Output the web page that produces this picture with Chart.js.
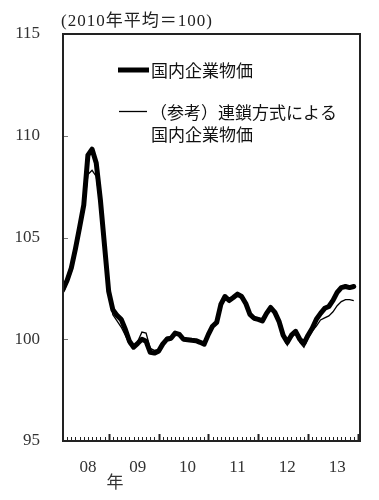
<!DOCTYPE html>
<html><head><meta charset="utf-8">
<script src="https://cdn.jsdelivr.net/npm/chart.js@4"></script>
<style>html,body{margin:0;padding:0;background:#fff}#wrap{width:379px;height:500px;position:relative}</style>
</head><body><div id="wrap"><canvas id="c"></canvas></div>
<script>
const months = [
 '2008/01','2008/02','2008/03','2008/04','2008/05','2008/06','2008/07','2008/08','2008/09','2008/10','2008/11','2008/12',
 '2009/01','2009/02','2009/03','2009/04','2009/05','2009/06','2009/07','2009/08','2009/09','2009/10','2009/11','2009/12',
 '2010/01','2010/02','2010/03','2010/04','2010/05','2010/06','2010/07','2010/08','2010/09','2010/10','2010/11','2010/12',
 '2011/01','2011/02','2011/03','2011/04','2011/05','2011/06','2011/07','2011/08','2011/09','2011/10','2011/11','2011/12',
 '2012/01','2012/02','2012/03','2012/04','2012/05','2012/06','2012/07','2012/08','2012/09','2012/10','2012/11','2012/12',
 '2013/01','2013/02','2013/03','2013/04','2013/05','2013/06','2013/07','2013/08','2013/09','2013/10','2013/11'];
const domesticCGPI = [
 102.45,102.9,103.5,104.45,105.5,106.6,109.05,109.34,108.66,106.85,104.6,102.35,
 101.45,101.17,100.98,100.49,99.9,99.61,99.8,100.0,99.9,99.36,99.32,99.41,
 99.76,100.0,100.05,100.3,100.24,100.0,99.98,99.95,99.93,99.85,99.76,100.24,
 100.64,100.83,101.71,102.1,101.9,102.05,102.22,102.1,101.76,101.22,101.03,100.98,
 100.9,101.27,101.56,101.32,100.88,100.2,99.85,100.2,100.39,100.0,99.8,100.2,
 100.54,100.98,101.27,101.52,101.61,101.91,102.3,102.54,102.59,102.54,102.59];
const chainLinkedCGPI = [
 102.25,102.75,103.3,104.2,105.3,106.3,108.1,108.3,108.0,106.5,104.5,102.3,
 101.2,100.9,100.6,100.2,99.75,99.6,99.9,100.35,100.3,99.55,99.45,99.5,
 99.85,100.1,100.1,100.3,100.25,100.0,99.98,99.97,99.95,99.9,99.8,100.2,
 100.6,100.8,101.65,102.05,101.85,102.0,102.15,102.05,101.7,101.15,100.98,100.93,
 100.85,101.2,101.5,101.25,100.8,100.1,99.7,100.1,100.3,99.85,99.6,100.05,
 100.4,100.65,100.95,101.05,101.15,101.35,101.65,101.85,101.95,101.95,101.9];
const yearLabels = ['08','09','10','11','12','13'];
const yTicks = [95,100,105,110,115];
const titleText = '(2010年平均＝100)';
const legendMain = '国内企業物価';
const legendChain = ['（参考）連鎖方式による','国内企業物価'];
const axisUnit = '年';

const SERIF = '"Liberation Serif", "Noto Sans CJK JP", serif';
const JP = '"Noto Sans CJK JP", sans-serif';
const toPoints = vals => vals.map((v,i)=>({x:i+1,y:v}));

const decor = {
  id:'decor',
  afterDatasetsDraw(chart){
    const {ctx, chartArea:a, scales:{x,y}} = chart;
    ctx.save();
    ctx.strokeStyle='#777'; ctx.lineWidth=1;
    yTicks.forEach(v=>{const py=Math.round(y.getPixelForValue(v))+0.5;ctx.beginPath();ctx.moveTo(a.left,py);ctx.lineTo(a.left+5,py);ctx.stroke();});
    ctx.strokeStyle='#222';
    for(let m=1;m<=months.length+1;m++){
      const px=Math.round(x.getPixelForValue(m))+0.5; const major=m%12===0;
      ctx.lineWidth=major?2:1; ctx.beginPath(); ctx.moveTo(px,a.bottom); ctx.lineTo(px,a.bottom-(major?7:4)); ctx.stroke();
    }
    ctx.lineWidth=2; ctx.strokeStyle='#222';
    ctx.strokeRect(a.left,a.top,a.right-a.left,a.bottom-a.top);
    // title
    ctx.fillStyle='#222'; ctx.textAlign='left'; ctx.textBaseline='middle';
    ctx.font='17px '+SERIF; try{ctx.letterSpacing='1px';}catch(e){}
    ctx.fillText(titleText,61,22);
    try{ctx.letterSpacing='0px';}catch(e){}
    // legend
    const ds=chart.data.datasets;
    ctx.strokeStyle=ds[0].borderColor; ctx.lineWidth=ds[0].borderWidth; ctx.lineCap='butt';
    ctx.beginPath(); ctx.moveTo(118,70); ctx.lineTo(149,70); ctx.stroke();
    ctx.strokeStyle=ds[1].borderColor; ctx.lineWidth=ds[1].borderWidth;
    ctx.beginPath(); ctx.moveTo(119,111.5); ctx.lineTo(147,111.5); ctx.stroke();
    ctx.font='17px '+JP; ctx.fillStyle='#111';
    ctx.fillText(legendMain,151,71);
    ctx.fillText(legendChain[0],150,113);
    ctx.fillText(legendChain[1],151,135);
    // axis unit
    ctx.textAlign='center'; ctx.fillStyle='#333';
    ctx.fillText(axisUnit,115,482);
    ctx.restore();
  }
};

new Chart(document.getElementById('c'),{
  type:'line',
  data:{datasets:[
    {label:legendMain,data:toPoints(domesticCGPI),borderColor:'#000',borderWidth:5,pointRadius:0,tension:0,borderJoinStyle:'round',borderCapStyle:'round'},
    {label:legendChain.join(''),data:toPoints(chainLinkedCGPI),borderColor:'#000',borderWidth:1.3,pointRadius:0,tension:0}
  ]},
  options:{
    responsive:true,maintainAspectRatio:false,animation:false,
    layout:{padding:{top:34,right:19,left:0,bottom:0}},
    plugins:{legend:{display:false},tooltip:{enabled:false},title:{display:false}},
    scales:{
      x:{type:'linear',min:1,max:72.5,
        afterBuildTicks:s=>{s.ticks=yearLabels.map((l,i)=>({value:7+12*i}));},
        ticks:{callback:(v,i)=>yearLabels[i],font:{family:SERIF,size:17},color:'#333',padding:16,maxRotation:0,autoSkip:false},
        grid:{display:false,drawTicks:false},border:{display:false},
        afterFit:s=>{s.height=59;}},
      y:{min:95,max:115,
        afterBuildTicks:s=>{s.ticks=yTicks.map(v=>({value:v}));},
        ticks:{font:{family:SERIF,size:17},color:'#333',padding:23},
        grid:{display:false,drawTicks:false},border:{display:false},
        afterFit:s=>{s.width=63;}}
    }
  },
  plugins:[decor]
});
</script></body></html>
